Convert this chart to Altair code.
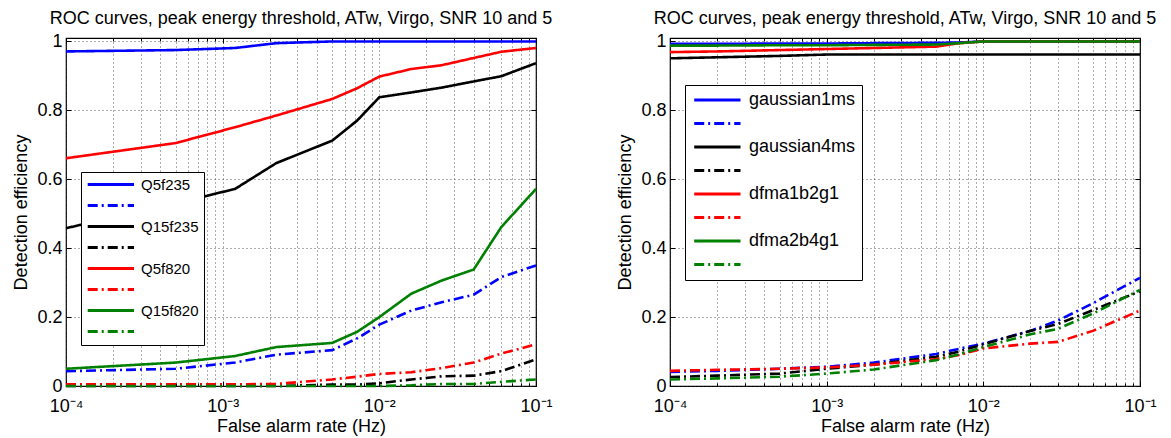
import altair as alt
import pandas as pd

TITLE = "ROC curves, peak energy threshold, ATw, Virgo, SNR 10 and 5"
X_TITLE = "False alarm rate (Hz)"
Y_TITLE = "Detection efficiency"

# ---------------- left panel data ----------------
left_x = [1e-4, 5e-4, 1.2e-3, 2.2e-3, 5e-3, 7.2e-3, 1e-2, 1.6e-2, 2.5e-2, 4e-2, 6e-2, 1e-1]
left_names = ["Q5f235", "Q5f235 (SNR 5)", "Q15f235", "Q15f235 (SNR 5)",
              "Q5f820", "Q5f820 (SNR 5)", "Q15f820", "Q15f820 (SNR 5)"]
q5f235_a = [0.971, 0.975, 0.981, 0.995, 1.0, 1.0, 1.0, 1.0, 1.0, 1.0, 1.0, 1.0]
q5f235_b = [0.043, 0.050, 0.068, 0.091, 0.104, 0.138, 0.178, 0.219, 0.243, 0.265, 0.316, 0.350]
q15f235_a = [0.458, 0.530, 0.572, 0.647, 0.712, 0.770, 0.838, 0.852, 0.866, 0.884, 0.899, 0.937]
q15f235_b = [0.0, 0.0, 0.0, 0.0, 0.004, 0.004, 0.008, 0.019, 0.028, 0.030, 0.043, 0.077]
q5f820_a = [0.661, 0.705, 0.751, 0.785, 0.833, 0.864, 0.898, 0.920, 0.931, 0.952, 0.970, 0.981]
q5f820_b = [0.005, 0.005, 0.005, 0.006, 0.019, 0.027, 0.035, 0.040, 0.052, 0.068, 0.094, 0.121]
q15f820_a = [0.050, 0.068, 0.087, 0.113, 0.125, 0.157, 0.200, 0.268, 0.306, 0.338, 0.461, 0.572]
q15f820_b = [0.0, 0.0, 0.0, 0.0, 0.0, 0.0, 0.0, 0.002, 0.006, 0.006, 0.012, 0.019]

# ---------------- right panel data ----------------
right_x = [1e-4, 2e-4, 5e-4, 1e-3, 2e-3, 5e-3, 7e-3, 1e-2, 2e-2, 3e-2, 5e-2, 1e-1]
right_names = ["gaussian1ms", "gaussian1ms (SNR 5)", "gaussian4ms", "gaussian4ms (SNR 5)",
               "dfma1b2g1", "dfma1b2g1 (SNR 5)", "dfma2b4g1", "dfma2b4g1 (SNR 5)"]
g1_a = [0.993, 0.993, 0.994, 0.994, 0.995, 0.996, 0.997, 1.0, 1.0, 1.0, 1.0, 1.0]
g1_b = [0.041, 0.044, 0.050, 0.056, 0.068, 0.093, 0.108, 0.123, 0.160, 0.190, 0.240, 0.314]
g4_a = [0.951, 0.954, 0.958, 0.962, 0.962, 0.962, 0.962, 0.962, 0.962, 0.962, 0.962, 0.962]
g4_b = [0.026, 0.030, 0.036, 0.050, 0.062, 0.085, 0.100, 0.121, 0.160, 0.180, 0.220, 0.275]
d1_a = [0.969, 0.971, 0.975, 0.978, 0.981, 0.985, 0.995, 1.0, 1.0, 1.0, 1.0, 1.0]
d1_b = [0.044, 0.047, 0.050, 0.054, 0.062, 0.078, 0.090, 0.109, 0.123, 0.128, 0.160, 0.219]
d2_a = [0.988, 0.988, 0.989, 0.989, 0.990, 0.991, 0.995, 1.0, 1.0, 1.0, 1.0, 1.0]
d2_b = [0.019, 0.022, 0.027, 0.036, 0.048, 0.075, 0.092, 0.113, 0.150, 0.166, 0.210, 0.279]

colors = ["#0000ff", "#0000ff", "#000000", "#000000", "#ff0000", "#ff0000", "#008000", "#008000"]
dashes = [[1, 0], [10, 4, 2, 4]] * 4

x_major = [1e-4, 1e-3, 1e-2, 1e-1]
x_minor = [2e-4, 3e-4, 4e-4, 5e-4, 6e-4, 7e-4, 8e-4, 9e-4,
           2e-3, 3e-3, 4e-3, 5e-3, 6e-3, 7e-3, 8e-3, 9e-3,
           2e-2, 3e-2, 4e-2, 5e-2, 6e-2, 7e-2, 8e-2, 9e-2]
x_ticks = sorted(x_major + x_minor)
y_ticks = [0, 0.2, 0.4, 0.6, 0.8, 1.0]

FONT = "Liberation Sans"
X_LABELS = ("datum.value == 0.0001 ? '10\u207b\u2074' : datum.value == 0.001 ? '10\u207b\u00b3' : "
            "datum.value == 0.01 ? '10\u207b\u00b2' : datum.value == 0.1 ? '10\u207b\u00b9' : ''")

XSCALE = alt.Scale(type="log", domain=[1e-4, 1e-1], nice=False)
YSCALE = alt.Scale(domain=[0, 1.01], nice=False, zero=False)


def tick_axis(orient, values, size):
    return alt.Axis(orient=orient, offset=-size, values=values, labels=False, domain=False,
                    grid=False, ticks=True, tickSize=size, tickColor="black", tickWidth=1,
                    title=None)


def panel(xs, names, series, legend_x, legend_y, legend_font, row_pad, pad):
    rows = []
    for name, ys in zip(names, series):
        for xv, yv in zip(xs, ys):
            rows.append({"far": xv, "eff": yv, "series": name})
    df = pd.DataFrame(rows)
    leg = alt.Legend(
        orient="none", legendX=legend_x, legendY=legend_y, title=None,
        fillColor="white", strokeColor="black", padding=pad,
        labelFont=FONT, labelFontSize=legend_font, labelColor="black",
        labelExpr="indexof(datum.label, 'SNR') >= 0 ? '' : datum.label",
        symbolType="M-1,0H7", symbolSize=134, symbolStrokeWidth=3,
        labelOffset=40, rowPadding=row_pad, symbolLimit=0,
    )
    base = alt.Chart(df)
    main = base.mark_line(strokeWidth=2.6).encode(
        x=alt.X("far:Q", title=X_TITLE, scale=XSCALE,
                axis=alt.Axis(orient="bottom", values=x_ticks, labelExpr=X_LABELS, labelPadding=11,
                              titleY=45, titleBaseline="alphabetic", domain=False, grid=True,
                              ticks=False)),
        y=alt.Y("eff:Q", title=Y_TITLE, scale=YSCALE,
                axis=alt.Axis(orient="left", values=y_ticks, format="~g", labelPadding=4,
                              titleX=-40, titleBaseline="alphabetic", domain=False, grid=True,
                              ticks=False)),
        color=alt.Color("series:N", scale=alt.Scale(domain=names, range=colors), legend=leg),
        strokeDash=alt.StrokeDash("series:N", scale=alt.Scale(domain=names, range=dashes), legend=leg),
        detail="series:N",
    )
    ghost = base.mark_point(opacity=0, size=1)
    t1 = ghost.encode(
        x=alt.X("far:Q", scale=XSCALE, axis=tick_axis("bottom", x_major, 5)),
        y=alt.Y("eff:Q", scale=YSCALE, axis=tick_axis("left", y_ticks, 5)),
    )
    t2 = ghost.encode(
        x=alt.X("far:Q", scale=XSCALE, axis=tick_axis("top", x_major, 5)),
        y=alt.Y("eff:Q", scale=YSCALE, axis=tick_axis("right", y_ticks, 5)),
    )
    t3 = ghost.encode(
        x=alt.X("far:Q", scale=XSCALE, axis=tick_axis("bottom", x_minor, 3)),
        y=alt.Y("eff:Q", scale=YSCALE, axis=None),
    )
    t4 = ghost.encode(
        x=alt.X("far:Q", scale=XSCALE, axis=tick_axis("top", x_minor, 3)),
        y=alt.Y("eff:Q", scale=YSCALE, axis=None),
    )
    return alt.layer(main, t1, t2, t3, t4).resolve_axis(
        x="independent", y="independent"
    ).properties(
        width=470, height=348,
        title=alt.Title(TITLE, fontSize=18, font=FONT, fontWeight="normal", color="black",
                        offset=-10, baseline="alphabetic", frame="group", anchor="middle"),
    )


left = panel(left_x, left_names,
             [q5f235_a, q5f235_b, q15f235_a, q15f235_b, q5f820_a, q5f820_b, q15f820_a, q15f820_b],
             15, 134, 15, 5, 5)
right = panel(right_x, right_names,
              [g1_a, g1_b, g4_a, g4_b, d1_a, d1_b, d2_a, d2_b],
              15, 47, 18, 5.5, 6)

chart = alt.hconcat(left, right, spacing=134, bounds="flush").resolve_scale(
    color="independent", strokeDash="independent"
).resolve_legend(
    color="independent", strokeDash="independent"
).properties(
    padding={"left": 11, "top": 9, "right": 5, "bottom": 2},
    background="white",
).configure_axis(
    labelFont=FONT, titleFont=FONT, labelFontSize=18, titleFontSize=18,
    titleFontWeight="normal", labelColor="black", titleColor="black",
    domainColor="black", domainWidth=1,
    gridColor="#333333", gridDash=[1, 3], gridWidth=1, gridOpacity=0.8,
    labelFlush=False, labelOverlap=False,
).configure_view(stroke="black", strokeWidth=1.2)

chart.save("out.html", embed_options={"renderer": "svg", "actions": False})
